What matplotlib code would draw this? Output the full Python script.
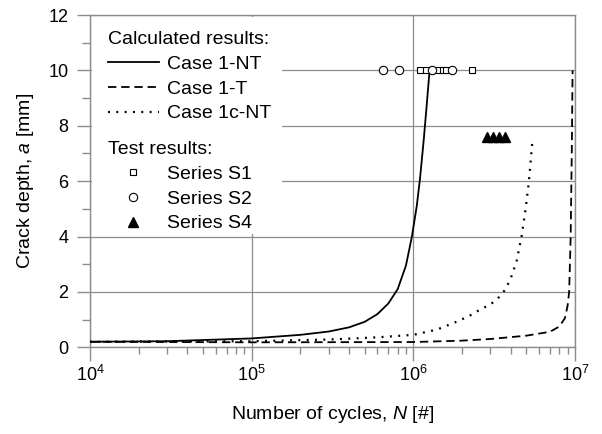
import numpy as np
import matplotlib
matplotlib.use('Agg')
import matplotlib.pyplot as plt
from matplotlib.lines import Line2D
from matplotlib.patches import Rectangle
from matplotlib.ticker import FixedLocator, LogLocator, NullFormatter

plt.rcParams['font.family'] = ['Liberation Sans', 'DejaVu Sans']
plt.rcParams['mathtext.fontset'] = 'custom'
plt.rcParams['mathtext.rm'] = 'Liberation Sans'
plt.rcParams['mathtext.it'] = 'Liberation Sans:italic'
plt.rcParams['lines.scale_dashes'] = False

# calculated curves (N, a)
nt_N = [1e4, 3e4, 1e5, 2e5, 3e5, 4e5, 5e5, 6e5, 7e5, 8e5, 9e5, 9.8e5, 1.05e6, 1.1e6, 1.16e6, 1.21e6, 1.24e6, 1.26e6]
nt_a = [0.2, 0.22, 0.32, 0.45, 0.57, 0.72, 0.92, 1.2, 1.58, 2.1, 2.95, 4.0, 5.1, 6.1, 7.5, 8.75, 9.5, 10.0]

t_N = [1e4, 1e5, 1e6, 2e6, 3e6, 5e6, 7e6, 8e6, 8.66e6, 9.0e6, 9.2e6, 9.4e6, 9.55e6, 9.66e6]
t_a = [0.2, 0.18, 0.19, 0.24, 0.3, 0.42, 0.56, 0.75, 1.05, 1.5, 2.0, 4.0, 7.0, 10.0]

c_N = [1e4, 1e5, 3e5, 6e5, 1e6, 1.4e6, 1.81e6, 2.2e6, 2.57e6, 3.0e6, 3.34e6, 3.7e6, 4.0e6, 4.35e6, 4.67e6, 4.95e6, 5.19e6, 5.44e6]
c_a = [0.2, 0.22, 0.28, 0.36, 0.45, 0.64, 0.9, 1.12, 1.35, 1.55, 1.77, 2.08, 2.48, 3.1, 4.0, 5.0, 6.0, 7.4]

# test results
s1_N = [1.1e6, 1.2e6, 1.42e6, 1.52e6, 1.6e6, 2.3e6]
s1_a = [10, 10, 10, 10, 10, 10]
s2_N = [6.5e5, 8.15e5, 1.3e6, 1.73e6]
s2_a = [10, 10, 10, 10]
s4_N = [2.85e6, 3.11e6, 3.38e6, 3.68e6]
s4_a = [7.6, 7.6, 7.6, 7.6]

fs = 14
gray = '#8c8c8c'

fig = plt.figure(figsize=(6.02, 4.34), dpi=100)
ax = fig.add_axes([90/602, 1-347.3/434, 485/602, 332.3/434])

dash = (0, (6, 3.5))
dot = (0, (1.4, 4.6))
lw = 1.3
ax.plot(nt_N, nt_a, color='black', lw=lw, zorder=3)
ax.plot(t_N, t_a, color='black', lw=lw, linestyle=dash, zorder=3)
ax.plot(c_N, c_a, color='black', lw=lw * 1.25, linestyle=dot, zorder=3)

ax.plot(s1_N, s1_a, ls='none', marker='s', ms=5, mfc='white', mec='black', mew=0.8, zorder=4)
ax.plot(s2_N, s2_a, ls='none', marker='o', ms=6, mfc='white', mec='black', mew=0.8, zorder=4)
ax.plot(s4_N, s4_a, ls='none', marker='^', ms=7, mfc='black', mec='black', zorder=4)

ax.set_xscale('log')
ax.set_xlim(1e4, 1e7)
ax.set_ylim(0, 12)
ax.set_xticks([1e4, 1e5, 1e6, 1e7])
ax.xaxis.set_minor_locator(LogLocator(base=10, subs=np.arange(2, 10)))
ax.xaxis.set_minor_formatter(NullFormatter())
ax.set_yticks(np.arange(0, 13, 2))
ax.yaxis.set_minor_locator(FixedLocator(np.arange(1, 12, 2)))

ax.grid(True, which='major', color=gray, lw=0.9)
ax.set_axisbelow(True)
for s in ax.spines.values():
    s.set_color(gray)
    s.set_linewidth(1.0)

ax.tick_params(axis='x', which='major', direction='out', length=10, width=1, color=gray, labelsize=13, pad=3)
ax.tick_params(axis='x', which='minor', direction='out', length=5, width=1, color=gray)
ax.tick_params(axis='y', which='major', direction='out', length=9.5, width=1, color=gray, labelsize=13, pad=6)
ax.tick_params(axis='y', which='minor', direction='out', length=5.5, width=1, color=gray)

ax.set_xlabel('Number of cycles, $\\it{N}$ [#]', fontsize=fs, labelpad=13)
ax.set_ylabel('Crack depth, $\\it{a}$ [mm]', fontsize=fs, labelpad=9)

# white box behind legend hides grid
ax.add_patch(Rectangle((92, 434 - 234), 190, 217, transform=None, facecolor='white',
                       edgecolor='none', zorder=1.5))

h1 = [Line2D([], [], color='black', lw=lw),
      Line2D([], [], color='black', lw=lw, linestyle=dash),
      Line2D([], [], color='black', lw=lw * 1.25, linestyle=dot)]
l1 = ['Case 1-NT', 'Case 1-T', 'Case 1c-NT']
h2 = [Line2D([], [], ls='none', marker='s', ms=5, mfc='white', mec='black', mew=0.8),
      Line2D([], [], ls='none', marker='o', ms=6, mfc='white', mec='black', mew=0.8),
      Line2D([], [], ls='none', marker='^', ms=7, mfc='black', mec='black')]
l2 = ['Series S1', 'Series S2', 'Series S4']

kw = dict(frameon=False, fontsize=fs, title_fontsize=fs, alignment='left', borderpad=0,
          borderaxespad=0, handlelength=2.6, handletextpad=0.45, labelspacing=0.37)
leg1 = ax.legend(h1, l1, title='Calculated results:', loc='upper left',
                 bbox_to_anchor=((108 - 90) / 485, (347.3 - 31) / 332.3), **kw)
ax.add_artist(leg1)
leg2 = ax.legend(h2, l2, title='Test results:', loc='upper left',
                 bbox_to_anchor=((108 - 90) / 485, (347.3 - 141) / 332.3), **kw)
for lg in (leg1, leg2):
    lg.set_zorder(5)

fig.savefig('out.png', dpi=100)
